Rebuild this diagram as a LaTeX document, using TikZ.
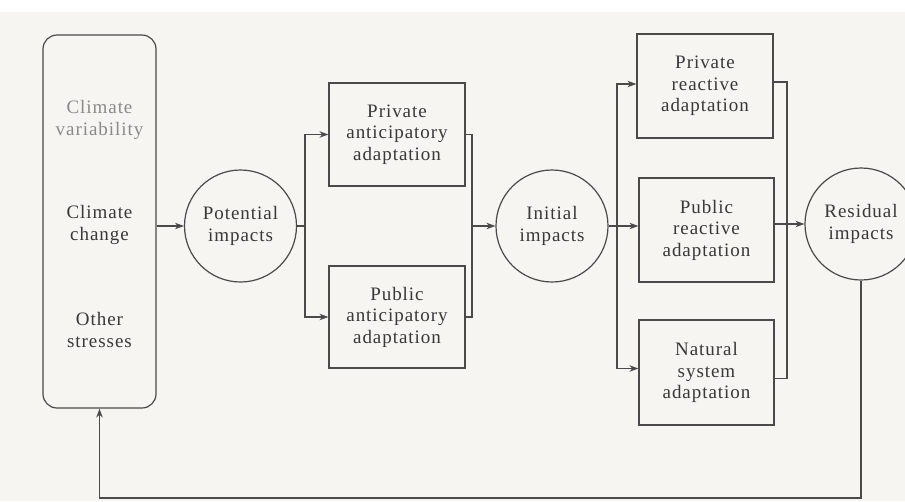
\documentclass[tikz,border=0pt]{standalone}
\usepackage{fontspec}
\setmainfont{Liberation Serif}[LetterSpace=5]
\usetikzlibrary{arrows.meta}
\definecolor{ink}{HTML}{383838}
\definecolor{lineink}{HTML}{4A4A4A}
\definecolor{paper}{HTML}{F6F5F2}
\definecolor{faint}{HTML}{8A8A8A}
\begin{document}
\begin{tikzpicture}[x=1pt,y=-1pt,
  every node/.style={text=ink, font=\fontsize{19}{21.5}\selectfont, align=center},
  conn/.style={draw=lineink, line width=1.2pt},
  arr/.style={conn, -{Stealth[length=9pt,width=6.5pt]}},
  boxnode/.style={draw=lineink, line width=1.2pt, inner sep=0pt, minimum width=136pt, minimum height=104pt},
  circnode/.style={draw=lineink, line width=1.2pt, circle, inner sep=0pt, minimum size=112pt},
  envbox/.style={draw=lineink, line width=1.2pt, rounded corners=14pt, inner sep=0pt, minimum width=113pt, minimum height=373pt}
]
\useasboundingbox (0,0) rectangle (905,501);
\fill[white] (0,0) rectangle (905,501);
\fill[paper] (0,12) rectangle (905,501);

% left environment box
\node[envbox] (env) at (99.5,221.5) {};
\node[text=faint] (cv) at (99.5,120) {Climate\\variability};
\node (cc) at (99.5,225) {Climate\\change};
\node (os) at (99.5,330) {Other\\stresses};

% circles
\node[circnode] (pot) at (240.5,226) {Potential\\impacts};
\node[circnode] (ini) at (552,226) {Initial\\impacts};
\node[circnode] (res) at (861,224) {Residual\\impacts};

% boxes
\node[boxnode, minimum height=103pt] (priA) at (397,134.5) {Private\\anticipatory\\adaptation};
\node[boxnode, minimum height=102pt] (pubA) at (397,317) {Public\\anticipatory\\adaptation};
\node[boxnode] (priR) at (705,86) {Private\\reactive\\adaptation};
\node[boxnode, minimum width=135pt] (pubR) at (706.5,230) {Public\\reactive\\adaptation};
\node[boxnode, minimum width=135pt, minimum height=105pt] (nat) at (706.5,372.5) {Natural\\system\\adaptation};

% junction coordinates
\coordinate (ja) at (305,226);
\coordinate (jb) at (472,226);
\coordinate (jc) at (617,226);
\coordinate (jd) at (787,224);
\coordinate (fb) at (861,498);

% connectors
\draw[arr] (pot.west -| env.east) -- (pot.west);
\draw[conn] (pot.east) -- (ja);
\draw[arr] (ja) |- (priA.west);
\draw[arr] (ja) |- (pubA.west);
\draw[conn] (priA.east) -| (jb);
\draw[conn] (pubA.east) -| (jb);
\draw[arr] (jb) -- (ini.west);
\draw[conn] (ini.east) -- (jc);
\draw[arr] (jc) |- ([yshift=2pt]priR.west);
\draw[arr] (jc) -- (jc -| pubR.west);
\draw[arr] (jc) |- ([yshift=4pt]nat.west);
\draw[conn] ([yshift=4pt]priR.east) -| (jd);
\draw[conn] ([yshift=-6pt]nat.east) -| (jd);
\draw[arr] (pubR.east |- res.west) -- (res.west);
\draw[arr] (res.south) -- (fb) -| (env.south);
\end{tikzpicture}
\end{document}
